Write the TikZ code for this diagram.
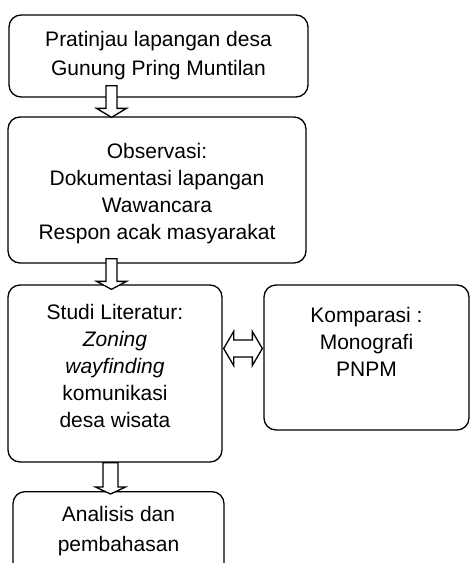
\documentclass[tikz,border=0pt]{standalone}
\usepackage{fontspec}
\setmainfont{Liberation Sans}
\usetikzlibrary{calc}

\tikzset{
  box/.style={draw, line width=1.3pt, rounded corners=12pt, align=center,
    inner sep=0pt, font=\fontsize{21}{27}\selectfont},
  fatarrow/.style={draw, fill=white, line width=1.3pt, line join=miter}
}

% block arrow pointing down: from, to, half shaft, half head, head length
\newcommand{\fatdown}[5]{%
  \filldraw[fatarrow] let \p1=#1, \p2=#2 in
    (\x1-#3,\y1) -- (\x1-#3,\y2+#5) -- (\x1-#4,\y2+#5) -- (\x1,\y2)
    -- (\x1+#4,\y2+#5) -- (\x1+#3,\y2+#5) -- (\x1+#3,\y1) -- cycle;}
% block arrow with two heads, left to right
\newcommand{\fatboth}[5]{%
  \filldraw[fatarrow] let \p1=#1, \p2=#2 in
    (\x1,\y1) -- (\x1+#5,\y1+#4) -- (\x1+#5,\y1+#3) -- (\x2-#5,\y1+#3)
    -- (\x2-#5,\y1+#4) -- (\x2,\y1) -- (\x2-#5,\y1-#4) -- (\x2-#5,\y1-#3)
    -- (\x1+#5,\y1-#3) -- (\x1+#5,\y1-#4) -- cycle;}

\begin{document}
\begin{tikzpicture}[x=1pt,y=-1pt]
    \useasboundingbox (0,0) rectangle (471,563);
    \clip (0,0) rectangle (471,563);
    % boxes
    \node[box, minimum width=299pt, minimum height=82pt] (pratinjau) at (158.5,56)
        {Pratinjau lapangan desa\\[2pt]Gunung Pring Muntilan};
    \node[box, minimum width=298pt, minimum height=146pt] (observasi) at (157,190)
        {\rule{0pt}{23pt}Observasi:\\Dokumentasi lapangan\\Wawancara\\Respon acak masyarakat};
    \node[box, minimum width=214pt, minimum height=177pt] (studi) at (115,373.5)
        {Studi Literatur:\\\textit{Zoning}\\\textit{wayfinding}\\komunikasi\\desa wisata\\[-12pt]\mbox{}};
    \node[box, minimum width=205pt, minimum height=145pt] (komparasi) at (366.5,357.5)
        {Komparasi :\\Monografi\\PNPM\\[4pt]\mbox{}};
    \node[box, minimum width=211pt, minimum height=104pt, anchor=north,
        font=\fontsize{21}{30}\selectfont] (analisis) at (118.5,491)
        {Analisis dan\\pembahasan\\\mbox{}};
    % arrows
    \fatdown{([xshift=-47pt,yshift=12pt]pratinjau.south)}{([yshift=-1pt]observasi.north)}{5.5pt}{15pt}{9pt}
    \fatdown{([xshift=-45.5pt,yshift=5pt]observasi.south)}{([yshift=-5pt]studi.north)}{5.5pt}{15pt}{8pt}
    \fatdown{([xshift=-4.5pt]studi.south)}{([yshift=-3pt]analisis.north)}{7.5pt}{15pt}{7pt}
    \fatboth{([xshift=1pt,yshift=25pt]studi.east)}{([xshift=-1pt]komparasi.west)}{8.5pt}{17pt}{10pt}
\end{tikzpicture}
\end{document}
